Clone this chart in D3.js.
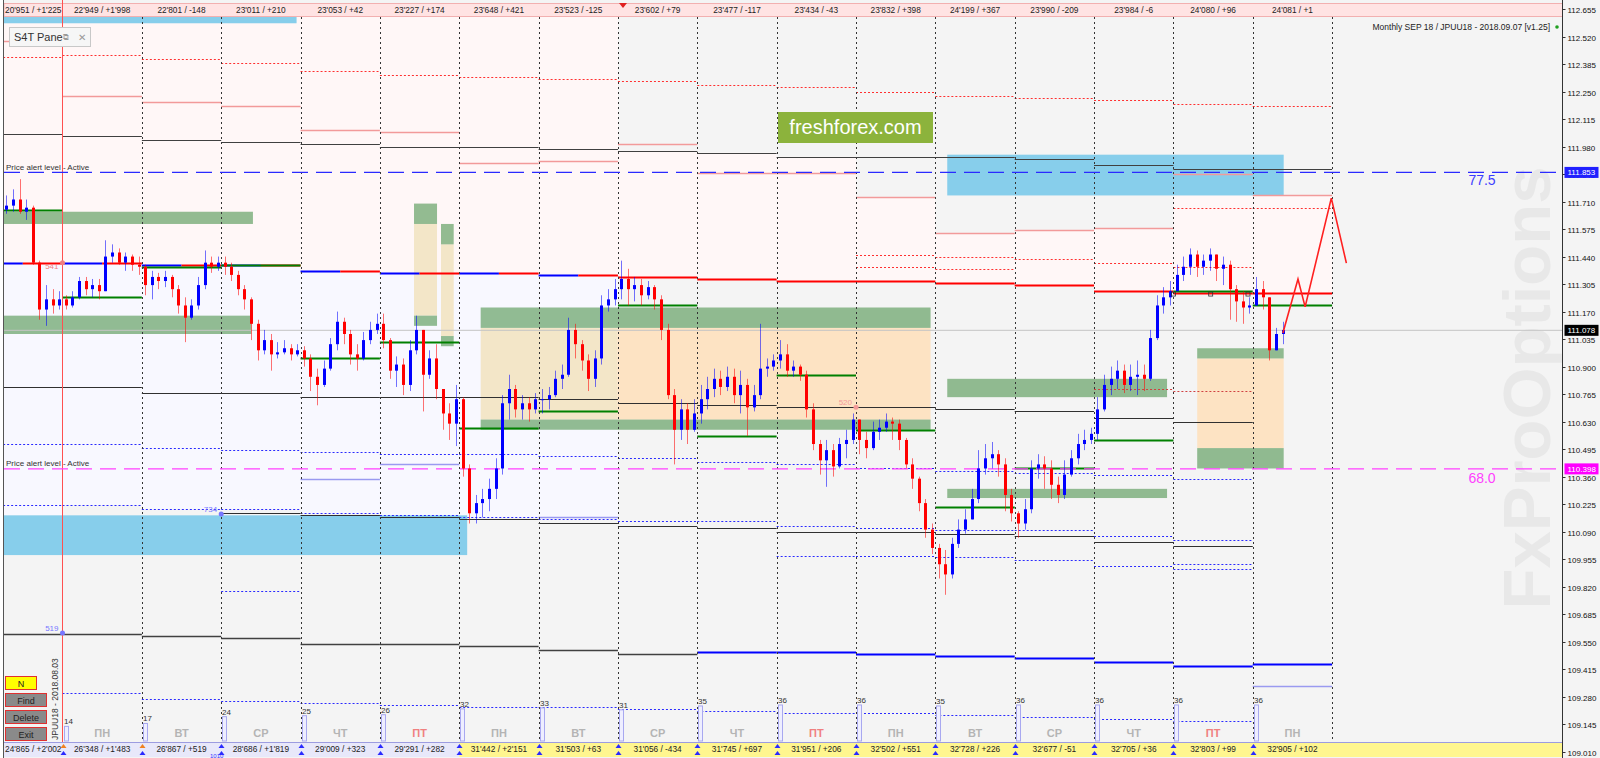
<!DOCTYPE html>
<html><head><meta charset="utf-8">
<script src="https://cdn.jsdelivr.net/npm/d3@7"></script>
<style>body{margin:0;background:#f4f4f4}svg{display:block}text{font-family:"Liberation Sans",Arial,sans-serif}</style>
</head><body><svg id="c" width="1600" height="758"></svg>
<script>
// ---------- DATA ----------
const priceTicks=["112.655","112.520","112.385","112.250","112.115","111.980","111.845","111.710","111.575","111.440","111.305","111.170","111.035","110.900","110.765","110.630","110.495","110.360","110.225","110.090","109.955","109.820","109.685","109.550","109.415","109.280","109.145","109.010"];
const headerLabels=["20'951 / +1'225","22'949 / +1'998","22'801 / -148","23'011 / +210","23'053 / +42","23'227 / +174","23'648 / +421","23'523 / -125","23'602 / +79","23'477 / -117","23'434 / -43","23'832 / +398","24'199 / +367","23'990 / -209","23'984 / -6","24'080 / +96","24'081 / +1"];
const footerLabels=["24'865 / +2'002","26'348 / +1'483","26'867 / +519","28'686 / +1'819","29'009 / +323","29'291 / +282","31'442 / +2'151","31'503 / +63","31'056 / -434","31'745 / +697","31'951 / +206","32'502 / +551","32'728 / +226","32'677 / -51","32'705 / +36","32'803 / +99","32'905 / +102"];
const dayNames=["ПН","ВТ","СР","ЧТ","ПТ","ПН","ВТ","СР","ЧТ","ПТ","ПН","ВТ","СР","ЧТ","ПТ","ПН"];
const dayCounts=[14,17,24,25,26,32,33,31,35,36,36,35,36,36,36,36];
const firstOpen=111.67;
// [close, high, low] per candle, grouped by day
const candlesByDay=[
[[111.69,111.74,111.65],[111.72,111.77,111.66],[111.66,111.82,111.65],[111.68,111.72,111.62],[111.41,111.69,111.40],[111.18,111.42,111.13],[111.23,111.30,111.10],[111.20,111.28,111.16],[111.23,111.27,111.18]],
[[111.20,111.25,111.18],[111.24,111.27,111.19],[111.32,111.34,111.23],[111.28,111.34,111.25],[111.30,111.33,111.24],[111.27,111.33,111.23],[111.44,111.52,111.27],[111.46,111.50,111.41],[111.41,111.48,111.40],[111.44,111.46,111.37],[111.40,111.45,111.37],[111.39,111.44,111.35]],
[[111.30,111.40,111.25],[111.34,111.37,111.23],[111.32,111.36,111.28],[111.34,111.37,111.29],[111.28,111.35,111.24],[111.20,111.30,111.16],[111.14,111.24,111.02],[111.20,111.23,111.13],[111.30,111.34,111.18],[111.41,111.47,111.28],[111.39,111.44,111.36],[111.41,111.44,111.37]],
[[111.39,111.44,111.35],[111.35,111.41,111.32],[111.28,111.37,111.25],[111.23,111.30,111.18],[111.11,111.24,111.03],[110.98,111.13,110.93],[111.03,111.08,110.96],[110.96,111.06,110.88],[110.97,111.02,110.94],[110.99,111.03,110.96],[110.96,111.01,110.93],[110.98,111.01,110.95]],
[[110.94,111.00,110.90],[110.85,110.96,110.78],[110.81,110.89,110.71],[110.89,110.93,110.80],[111.01,111.04,110.88],[111.12,111.17,110.98],[111.06,111.14,111.01],[110.96,111.08,110.91],[110.94,111.01,110.88],[111.03,111.07,110.93],[111.08,111.12,111.01],[111.11,111.16,111.06]],
[[111.03,111.16,110.99],[110.88,111.04,110.84],[110.91,110.95,110.80],[110.81,110.94,110.76],[110.98,111.03,110.78],[111.08,111.15,110.96],[110.86,111.08,110.68],[110.94,110.98,110.84],[110.79,111.01,110.74],[110.67,110.79,110.59],[110.62,110.72,110.54],[110.74,110.81,110.51]],
[[110.40,110.75,110.36],[110.18,110.42,110.13],[110.23,110.27,110.13],[110.25,110.30,110.16],[110.30,110.35,110.19],[110.40,110.45,110.25],[110.72,110.76,110.37],[110.79,110.86,110.64],[110.69,110.81,110.65],[110.72,110.76,110.64],[110.69,110.75,110.63],[110.74,110.77,110.67]],
[[110.74,110.79,110.67],[110.76,110.80,110.69],[110.84,110.88,110.75],[110.86,110.91,110.79],[111.08,111.14,110.85],[111.01,111.11,110.94],[110.93,111.03,110.88],[110.84,110.96,110.78],[110.94,110.98,110.80],[111.20,111.25,110.91],[111.23,111.28,111.17],[111.28,111.33,111.20]],
[[111.33,111.42,111.23],[111.28,111.38,111.20],[111.30,111.34,111.22],[111.25,111.33,111.20],[111.29,111.32,111.23],[111.23,111.30,111.18],[111.08,111.25,111.03],[110.76,111.11,110.74],[110.59,110.79,110.42],[110.69,110.74,110.54],[110.59,110.72,110.52],[110.67,110.74,110.58]],
[[110.74,110.81,110.62],[110.79,110.85,110.69],[110.84,110.89,110.75],[110.80,110.88,110.76],[110.85,110.90,110.78],[110.76,110.89,110.72],[110.81,110.88,110.67],[110.70,110.84,110.56],[110.76,110.81,110.68],[110.89,111.11,110.74],[110.90,110.94,110.85],[110.93,110.96,110.88]],
[[110.96,111.03,110.89],[110.88,111.01,110.85],[110.90,110.93,110.85],[110.86,110.91,110.83],[110.69,110.88,110.65],[110.52,110.72,110.49],[110.44,110.54,110.37],[110.49,110.54,110.31],[110.41,110.52,110.36],[110.52,110.55,110.40],[110.54,110.59,110.45],[110.64,110.67,110.52]],
[[110.54,110.62,110.47],[110.50,110.58,110.45],[110.58,110.63,110.49],[110.60,110.64,110.54],[110.63,110.67,110.58],[110.62,110.65,110.54],[110.54,110.64,110.49],[110.42,110.55,110.40],[110.35,110.45,110.30],[110.23,110.36,110.19],[110.10,110.25,110.06],[110.01,110.13,109.98]],
[[109.93,110.03,109.86],[109.88,110.00,109.78],[110.03,110.06,109.86],[110.10,110.15,110.01],[110.15,110.20,110.08],[110.25,110.30,110.15],[110.40,110.49,110.23],[110.45,110.52,110.37],[110.47,110.53,110.40],[110.42,110.49,110.36],[110.27,110.45,110.19],[110.18,110.30,110.14]],
[[110.13,110.19,110.06],[110.20,110.25,110.10],[110.40,110.44,110.18],[110.42,110.47,110.35],[110.40,110.46,110.30],[110.32,110.44,110.25],[110.27,110.36,110.23],[110.37,110.44,110.25],[110.45,110.49,110.36],[110.52,110.57,110.42],[110.54,110.59,110.49],[110.57,110.60,110.52]],
[[110.69,110.75,110.54],[110.81,110.86,110.68],[110.84,110.90,110.76],[110.88,110.93,110.79],[110.81,110.91,110.77],[110.85,110.91,110.78],[110.86,110.93,110.76],[110.84,110.91,110.78],[111.04,111.08,110.83],[111.20,111.25,111.03],[111.24,111.29,111.16],[111.27,111.32,111.20]],
[[111.35,111.40,111.28],[111.39,111.44,111.32],[111.45,111.48,111.35],[111.39,111.47,111.34],[111.42,111.45,111.35],[111.45,111.48,111.37],[111.38,111.45,111.32],[111.40,111.44,111.30],[111.28,111.42,111.13],[111.22,111.30,111.12],[111.19,111.27,111.11],[111.20,111.24,111.16]],
[[111.28,111.34,111.23],[111.24,111.32,111.18],[110.98,111.23,110.93],[111.06,111.09,110.99],[111.08,111.12,111.01]]
];
// per-day levels (day 0..16)
const redDotTop=[112.42,112.43,112.41,112.39,112.35,112.33,112.32,112.31,112.30,112.28,112.27,112.25,112.23,112.22,112.21,112.19,112.18];
const pinkSolid=[112.50,112.23,112.20,112.18,112.06,112.05,111.90,111.91,111.99,111.85,111.85,111.73,111.555,111.57,111.58,111.845,111.74];
const blackTop=[112.04,112.03,112.01,112.00,111.99,111.98,111.98,111.97,111.96,111.95,111.93,111.93,111.93,111.92,111.89,111.87,111.87];
const redDot2=[null,null,null,null,null,null,null,null,null,null,null,111.45,111.44,111.43,111.41,111.68,111.68];
const redDot3=[null,null,null,null,null,null,null,null,null,null,null,111.39,111.38,null,null,111.39,null];
const redDotLow=[null,null,null,null,null,null,null,null,null,null,null,null,null,null,110.79,110.78,null];
const pivot=[111.41,111.41,111.40,111.40,111.37,111.36,111.36,111.35,111.34,111.33,111.32,111.32,111.31,111.30,111.27,111.26,111.26];
const greenLvl=[111.67,111.24,111.39,111.40,110.94,111.02,110.60,110.68,111.20,110.56,110.86,110.59,110.21,110.40,110.54,111.27,111.20];
const blackMid=[110.80,110.80,110.77,110.77,110.75,110.75,110.75,110.74,110.72,110.71,110.70,110.70,110.69,110.68,110.65,110.63,null];
const blueDotA=[110.52,110.52,110.50,110.49,110.48,110.47,110.47,110.46,110.45,110.43,110.42,110.40,110.39,110.38,110.37,110.35,null];
const lavSolid=[null,null,null,null,110.35,110.42,null,110.16,null,null,null,null,null,null,null,null,109.33];
const blueDotB=[110.22,110.22,110.20,110.20,110.18,110.17,110.16,110.15,110.14,110.14,110.12,110.11,110.10,110.10,110.07,110.05,null];
const blackLow1=[null,null,null,110.18,110.17,110.16,110.15,110.13,110.12,110.11,110.09,110.09,110.08,110.07,110.04,110.02,null];
const blueDotC=[null,null,null,109.80,null,null,null,null,null,null,109.97,109.97,109.965,109.95,109.92,109.93,null];
const blueDotC2=[null,null,null,null,null,null,null,null,null,null,null,null,null,null,null,109.905,null];
const blackLow2=[109.59,109.59,109.58,109.57,109.54,109.54,109.53,109.51,109.49,109.50,109.50,109.49,109.48,109.47,109.45,109.43,109.44];
const blueDotD=[null,109.30,109.27,109.26,109.25,109.24,109.23,109.23,109.22,109.21,109.20,109.20,109.19,109.18,109.17,109.16,null];
const tintTop=[112.62,112.62,112.62,112.62,112.62,112.62,112.62,112.62,111.96,111.95,111.93,111.73,111.555,111.57,111.58,111.845,111.74];
const lavBottom=[110.17,110.22,110.20,110.20,110.18,110.17,110.16,110.15,null,null,null,null,null,null,null,null,null];
// bands: [dayFrom, dayTo, priceTop, priceBottom]
const greenBands=[[0.2,3.40,111.66,111.60],[0.2,3.38,111.15,111.06],[6.27,11.94,111.19,111.09],[6.27,11.94,110.64,110.59],[12.15,14.92,110.84,110.75],[12.15,14.92,110.30,110.255],[15.30,16.39,110.99,110.94],[15.30,16.39,110.50,110.40],[5.43,5.72,111.70,111.60],[5.43,5.72,111.15,111.10],[5.77,5.93,111.60,111.50],[5.77,5.93,111.05,111.00]];
const peachBands=[[7.99,11.94,111.09,110.64],[15.30,16.39,110.94,110.50]];
const beigeBands=[[6.27,7.99,111.09,110.64],[5.43,5.72,111.60,111.15],[5.77,5.93,111.50,111.05]];
const blueBands=[[0.2,6.10,110.17,109.975],[12.15,16.39,111.94,111.74],[0.2,3.95,112.62,112.585]];
const projection=[[16.38,111.065],[16.57,111.33],[16.66,111.193],[16.99,111.727],[17.18,111.408]];
const alertBlue=111.853, alertMagenta=110.398, lastPrice=111.078;
const markers=[{day:1,price:111.41,label:"541",color:"#f08080"},{day:1,price:109.592,label:"519",color:"#7777ff"},{day:3,price:110.176,label:"734",color:"#7777ff"},{day:11,price:110.70,label:"520",color:"#f49a9a"}];
const squares=[[15.0,111.256],[15.47,111.256],[15.94,111.256]];

// ---------- SCALES ----------
const svg=d3.select("#c");
const y=d3.scaleLinear().domain([109.010,112.655]).range([751.7,9]);
const x=d3.scaleLinear().domain([0,17]).range([-16.85,1332.1]);
const yv=d3.scaleLinear().domain([0,36]).range([740,705]);
const SLOTS=12, L=4, R=1562.5;

svg.append("rect").attr("width",1600).attr("height",758).attr("fill","#f4f4f4");
svg.append("rect").attr("width",3).attr("height",758).attr("fill","#ffffff");
const defs=svg.append("defs");
defs.append("clipPath").attr("id","plot").append("rect").attr("x",L).attr("y",17).attr("width",R-L).attr("height",725);
const g=svg.append("g").attr("clip-path","url(#plot)");

// watermark
g.append("text").attr("transform","translate(1550,388) rotate(-90)").attr("text-anchor","middle")
 .attr("font-size",67).attr("font-weight","bold").attr("fill","#e8e8e8").text("FxProOptions");

// tints
const tintG=g.append("g");
pivot.forEach((p,d)=>{
  tintG.append("rect").attr("x",x(d)).attr("width",x(d+1)-x(d)).attr("y",y(tintTop[d])).attr("height",y(p)-y(tintTop[d])).attr("fill","#fff7f7");
  if(lavBottom[d]!=null) tintG.append("rect").attr("x",x(d)).attr("width",x(d+1)-x(d)).attr("y",y(p)).attr("height",y(lavBottom[d])-y(p)).attr("fill","#f8f8ff");
});
function bands(arr,fill,op){
  g.append("g").selectAll("rect").data(arr).join("rect")
   .attr("x",b=>x(b[0])).attr("width",b=>x(b[1])-x(b[0]))
   .attr("y",b=>y(b[2])).attr("height",b=>y(b[3])-y(b[2])).attr("fill",fill).attr("opacity",op);
}
bands(peachBands,"#fde3c3",1);
bands(beigeBands,"#f3e6c8",1);
bands(blueBands,"#87ceeb",1);
bands(greenBands,"#6aa46a",0.72);

function levels(arr,stroke,w,dash){
  g.append("g").selectAll("line").data(arr.map((v,d)=>({v,d})).filter(o=>o.v!=null)).join("line")
   .attr("x1",o=>x(o.d)).attr("x2",o=>x(o.d+1)).attr("y1",o=>Math.round(y(o.v))+0.5).attr("y2",o=>Math.round(y(o.v))+0.5)
   .attr("stroke",typeof stroke==="function"?o=>stroke(o.d):stroke).attr("stroke-width",typeof w==="function"?o=>w(o.d):w).attr("stroke-dasharray",dash||null);
}
levels(redDotTop,"#ff3030",1,"2,2");
levels(pinkSolid,"#f29a9a",1.5);
levels(blackTop,"#404040",1.2);
levels(redDot2,"#ff3030",1,"2,2");
levels(redDot3,"#ff3030",1,"2,2");
levels(redDotLow,"#d04040",1,"2,2");
levels(blackMid,"#303030",1);
levels(blueDotA,"#2a2aff",1,"2,2");
levels(lavSolid,"#9a9af0",1.5);
levels(blueDotB,"#2a2aff",1,"2,2");
levels(blackLow1,"#303030",1);
levels(blueDotC,"#2a2aff",1,"2,2");
levels(blueDotC2,"#2a2aff",1,"2,2");
levels(blackLow2,d=>d<9?"#404040":"#0000ff",d=>d<9?1.5:2);
levels(blueDotD,"#2a2aff",1,"2,2");
// pivot (half blue / half red for early days)
pivot.forEach((p,d)=>{
  const yy=Math.round(y(p))+0.5;
  if(d<8){
    g.append("line").attr("x1",x(d)).attr("x2",x(d+0.5)).attr("y1",yy).attr("y2",yy).attr("stroke","#0000ff").attr("stroke-width",2);
    g.append("line").attr("x1",x(d+0.5)).attr("x2",x(d+1)).attr("y1",yy).attr("y2",yy).attr("stroke","#ff0000").attr("stroke-width",2);
  } else g.append("line").attr("x1",x(d)).attr("x2",x(d+1)).attr("y1",yy).attr("y2",yy).attr("stroke","#ff0000").attr("stroke-width",2);
});
levels(greenLvl,"#008000",2);

// current price line
g.append("line").attr("x1",L).attr("x2",R).attr("y1",y(lastPrice)).attr("y2",y(lastPrice)).attr("stroke","#c4c4c4");
// vertical separators
g.append("g").selectAll("line").data(d3.range(2,18)).join("line")
 .attr("x1",d=>Math.round(x(d))+0.5).attr("x2",d=>Math.round(x(d))+0.5).attr("y1",17).attr("y2",742)
 .attr("stroke","#333").attr("stroke-dasharray","2,3");
g.append("line").attr("x1",x(1)).attr("x2",x(1)).attr("y1",17).attr("y2",758).attr("stroke","#ff5050");

// alert lines
g.append("line").attr("x1",L).attr("x2",R).attr("y1",y(alertBlue)).attr("y2",y(alertBlue)).attr("stroke","#2a2aff").attr("stroke-width",1.3).attr("stroke-dasharray","16,8");
g.append("line").attr("x1",L).attr("x2",R).attr("y1",y(alertMagenta)).attr("y2",y(alertMagenta)).attr("stroke","#ff40ff").attr("stroke-width",1.3).attr("stroke-dasharray","16,8");
g.append("text").attr("x",6).attr("y",y(alertBlue)-2.5).attr("font-size",8).attr("fill","#333").text("Price alert level - Active");
g.append("text").attr("x",6).attr("y",y(alertMagenta)-2.5).attr("font-size",8).attr("fill","#333").text("Price alert level - Active");
g.append("text").attr("x",1482).attr("y",y(alertBlue)+13).attr("text-anchor","middle").attr("font-size",14).attr("fill","#3c3cff").text("77.5");
g.append("text").attr("x",1482).attr("y",y(alertMagenta)+14).attr("text-anchor","middle").attr("font-size",14).attr("fill","#ff40ff").text("68.0");

// candles
let prev=firstOpen; const bars=[];
candlesByDay.forEach((day,d)=>{
  const off=d===0?SLOTS-day.length:0;
  day.forEach((c,i)=>{const o=prev;bars.push({t:d+(off+i+0.5)/SLOTS,o,c:c[0],h:Math.max(c[1],o,c[0]),l:Math.min(c[2],o,c[0])});prev=c[0];});
});
const cg=g.append("g");
cg.selectAll("line").data(bars).join("line")
 .attr("x1",b=>Math.round(x(b.t))+0.5).attr("x2",b=>Math.round(x(b.t))+0.5).attr("y1",b=>y(b.h)).attr("y2",b=>y(b.l))
 .attr("stroke",b=>b.c>=b.o?"#0000ff":"#ff0000").attr("stroke-opacity",0.55);
cg.selectAll("rect").data(bars).join("rect")
 .attr("x",b=>Math.round(x(b.t))-1).attr("width",3)
 .attr("y",b=>y(Math.max(b.o,b.c))).attr("height",b=>Math.max(1,Math.abs(y(b.o)-y(b.c))))
 .attr("fill",b=>b.c>=b.o?"#0000ff":"#ff0000");
// projection
g.append("path").attr("d",d3.line().x(p=>x(p[0])).y(p=>y(p[1]))(projection)).attr("fill","none").attr("stroke","#ff2020").attr("stroke-width",1.6);
// squares
g.append("g").selectAll("rect").data(squares).join("rect").attr("x",s=>x(s[0])-2).attr("y",s=>y(s[1])-2).attr("width",4).attr("height",4).attr("fill","none").attr("stroke","#333").attr("stroke-width",0.8);
// markers
markers.forEach(m=>{
  g.append("circle").attr("cx",x(m.day)).attr("cy",y(m.price)).attr("r",2.5).attr("fill",m.color);
  g.append("text").attr("x",x(m.day)-4).attr("y",y(m.price)+(m.label==="541"?6:-2)).attr("text-anchor","end").attr("font-size",8).attr("fill",m.color).text(m.label);
});

// logo
svg.append("rect").attr("x",778).attr("y",112).attr("width",155).attr("height",31).attr("fill","#8cb33c");
svg.append("text").attr("x",855.5).attr("y",134).attr("text-anchor","middle").attr("font-size",20).attr("fill","#fff").text("freshforex.com");

// header
svg.append("rect").attr("x",L).attr("y",3.5).attr("width",R-L).attr("height",13).attr("fill","#ffe3e3").attr("stroke","#f2b0b0");
svg.append("g").selectAll("text").data(headerLabels).join("text")
 .attr("x",(t,d)=>(Math.max(x(d),L)+x(d+1))/2).attr("y",13).attr("text-anchor","middle").attr("font-size",8.3).attr("fill","#222").text(t=>t);
svg.append("path").attr("d","M619,3 L627,3 L623,8 Z").attr("fill","#e02020");
svg.append("text").attr("x",1550).attr("y",30).attr("text-anchor","end").attr("font-size",8.5).attr("fill","#222").text("Monthly SEP 18 / JPUU18 - 2018.09.07 [v1.25]");
svg.append("circle").attr("cx",1557).attr("cy",27).attr("r",1.8).attr("fill","#20a020");
// S4T pane
svg.append("rect").attr("x",9.5).attr("y",27.5).attr("width",81).attr("height",19).attr("fill","#f6f6f6").attr("stroke","#c8c8c8");
svg.append("text").attr("x",14).attr("y",41).attr("font-size",11).attr("fill","#333").text("S4T Pane");
svg.append("text").attr("x",63).attr("y",40).attr("font-size",8).attr("fill","#999").text("⧉");
svg.append("text").attr("x",78).attr("y",41).attr("font-size",10).attr("fill","#999").text("✕");
svg.append("line").attr("x1",x(1)).attr("x2",x(1)).attr("y1",0).attr("y2",17).attr("stroke","#ff5050");

// volume bars
const vg=svg.append("g");
dayCounts.forEach((v,i)=>{const d=i+1;
  vg.append("rect").attr("x",Math.round(x(d))+1.5).attr("y",yv(v)).attr("width",4).attr("height",741-yv(v)).attr("fill","#eeeeff").attr("stroke","#a8a8f0");
  vg.append("text").attr("x",Math.round(x(d))+1).attr("y",yv(v)-2).attr("font-size",8).attr("fill","#333").text(v);
});
// day names
svg.append("g").selectAll("text").data(dayNames).join("text")
 .attr("x",(t,i)=>(x(i+1)+x(i+2))/2).attr("y",737).attr("text-anchor","middle").attr("font-size",11).attr("font-weight","bold")
 .attr("fill",t=>t==="ПТ"?"#f08080":"#b4b4b4").text(t=>t);
// footer
svg.append("rect").attr("x",L).attr("y",742).attr("width",x(6)-L).attr("height",15).attr("fill","#e8e8fa");
svg.append("rect").attr("x",x(6)).attr("y",742).attr("width",R-x(6)).attr("height",15).attr("fill","#fff68f");
svg.append("line").attr("x1",L).attr("x2",R).attr("y1",742.5).attr("y2",742.5).attr("stroke","#9c9ce0");
svg.append("g").selectAll("text").data(footerLabels).join("text")
 .attr("x",(t,d)=>(Math.max(x(d),L)+x(d+1))/2).attr("y",752).attr("text-anchor","middle").attr("font-size",8.3).attr("fill","#222").text(t=>t);
d3.range(1,17).forEach(d=>{
  const cx=Math.round(x(d))+0.5;
  svg.append("path").attr("d",`M${cx-3},${748} L${cx+3},${748} L${cx},${744} Z`).attr("fill",d<3?"#f08020":"#2a2aff");
  svg.append("path").attr("d",`M${cx-3},${755} L${cx+3},${755} L${cx},${751} Z`).attr("fill","#2a2aff");
});
svg.append("text").attr("x",210).attr("y",757.5).attr("font-size",6).attr("fill","#3333ff").text("1010");

// left buttons
const btns=[["N",676,"#ffff00",31],["Find",693,"#8a8a8a",41],["Delete",710,"#8a8a8a",41],["Exit",727,"#8a8a8a",41]];
btns.forEach(b=>{
  svg.append("rect").attr("x",5.5).attr("y",b[1]+0.5).attr("width",b[3]).attr("height",13).attr("fill",b[2]).attr("stroke","#e03030");
  svg.append("text").attr("x",5.5+b[3]/2).attr("y",b[1]+10.5).attr("text-anchor","middle").attr("font-size",9).attr("fill","#222").text(b[0]);
});
svg.append("text").attr("transform","translate(58,740) rotate(-90)").attr("font-size",8.5).attr("fill","#333").text("JPUU18 - 2018.08.03");

// frame + axis
svg.append("line").attr("x1",3.5).attr("x2",3.5).attr("y1",0).attr("y2",758).attr("stroke","#555");
svg.append("line").attr("x1",R).attr("x2",R).attr("y1",0).attr("y2",758).attr("stroke","#333");
const ax=svg.append("g");
priceTicks.forEach(t=>{
  const yy=Math.round(y(+t))+0.5;
  ax.append("line").attr("x1",R).attr("x2",R+3).attr("y1",yy).attr("y2",yy).attr("stroke","#333");
  ax.append("text").attr("x",R+5).attr("y",yy+3).attr("font-size",8).attr("fill","#111").text(t);
});
[[alertBlue,"#2020ff","#fff"],[lastPrice,"#000","#fff"],[alertMagenta,"#ff00ff","#fff"]].forEach(h=>{
  const yy=y(h[0]);
  ax.append("rect").attr("x",R+2).attr("y",yy-5.5).attr("width",34).attr("height",11).attr("fill",h[1]);
  ax.append("text").attr("x",R+5).attr("y",yy+3).attr("font-size",8).attr("fill",h[2]).text(h[0].toFixed(3));
});
</script></body></html>
